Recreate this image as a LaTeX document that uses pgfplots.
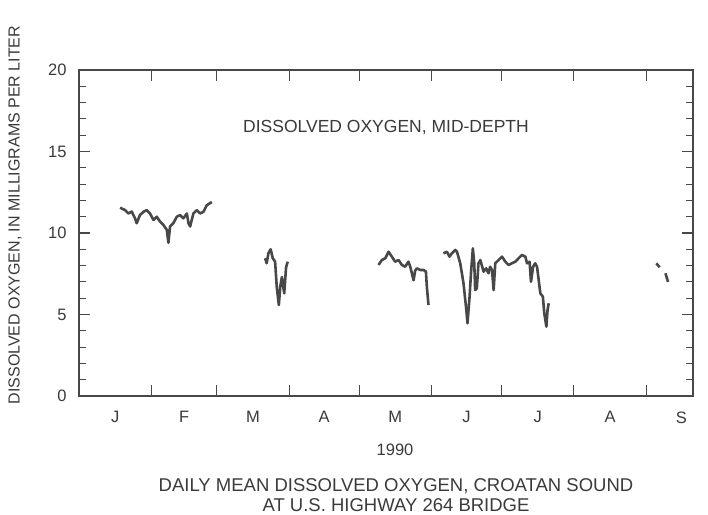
\documentclass[border=0pt]{standalone}
\usepackage{pgfplots}
\pgfplotsset{compat=1.18}
\usepackage{fontspec}
\setmainfont{Liberation Sans}
\definecolor{ink}{HTML}{484848}
\definecolor{txt}{HTML}{3A3A3A}
\begin{document}
\begin{tikzpicture}[x=1pt,y=1pt]
\useasboundingbox (0,0) rectangle (708,514);
\begin{axis}[at={(79pt,118pt)}, anchor=south west, scale only axis,
  width=614pt, height=326pt,
  xmin=0, xmax=263, ymin=0, ymax=20,
  axis line style={ink, line width=1.3pt},
  every tick/.style={ink, line width=1.1pt},
  tick align=inside,
  xtick={0,31,59,90,120,151,181,212,243},
  xticklabels={},
  major tick length=11pt,
  minor tick length=7pt,
  extra x ticks={15.5,45,74.5,105,135.5,166,196.5,227.5,258},
  extra x tick labels={J,F,M,A,M,J,J,A,S},
  extra x tick style={major tick length=0pt},
  ytick={0,5,10,15,20},
  minor y tick num=4,
  /pgf/number format/assume math mode=true,
  every tick label/.append style={font=\fontsize{16.5}{18}\selectfont, txt},
  xticklabel style={yshift=-12pt},
  yticklabel style={xshift=-9pt},
  clip=false,
]
\addplot[ink, line width=2.6pt, line join=round] coordinates {
(17.6,11.55)(19.7,11.41)(21.1,11.2)(22.6,11.31)(24,10.9)(24.7,10.6)(26.1,11.1)(27.6,11.3)(29,11.4)(30.4,11.2)(31.9,10.8)(33.3,11.0)(34.7,10.7)(36.1,10.5)(37.6,10.2)(38.3,9.4)(39,10.4)(40.4,10.6)(41.9,11.0)(43.3,11.1)(44.7,10.9)(46.2,11.2)(46.9,10.6)(47.6,10.4)(49,11.2)(50.4,11.4)(51.9,11.2)(53.3,11.3)(54.7,11.7)(56.9,11.9)
};
\addplot[ink, line width=2.6pt, line join=round] coordinates {
(79.7,8.45)(80.4,8.14)(81.1,8.75)(82.1,9.0)(83,8.45)(84,8.24)(84.7,6.7)(85.6,5.58)(86.2,6.7)(86.9,7.3)(87.9,6.3)(88.7,7.9)(89.4,8.24)
};
\addplot[ink, line width=2.6pt, line join=round] coordinates {
(128.3,8.04)(129.7,8.34)(131.2,8.45)(132.6,8.85)(134,8.55)(135.4,8.24)(136.9,8.34)(138.3,8.04)(139.7,7.93)(141.1,8.24)(141.9,7.93)(143.3,7.1)(144,7.7)(144.7,7.83)(146.2,7.73)(147.6,7.73)(148.6,7.63)(149,6.7)(149.7,5.58)
};
\addplot[ink, line width=2.6pt, line join=round] coordinates {
(156.1,8.75)(157.6,8.85)(158.7,8.55)(159.7,8.75)(161.2,8.96)(161.9,8.85)(163.3,8.14)(164.7,6.91)(165.9,5.28)(166.4,4.46)(167.3,6.09)(167.9,7.53)(168.7,9.06)(169.3,8.14)(169.7,6.5)(170.4,6.6)(171.1,8.14)(171.9,8.34)(173.3,7.63)(174.4,7.83)(175.4,7.53)(176.1,7.93)(176.9,7.73)(177.6,6.5)(178.3,8.14)(179.7,8.34)(181.2,8.55)(182.6,8.24)(184,8.04)(185.4,8.14)(186.9,8.24)(188.3,8.45)(189.7,8.65)(191.2,8.55)(191.9,8.14)(193,8.24)(193.6,7.01)(194.5,7.93)(195.4,8.14)(196.2,7.93)(197.6,6.3)(198.7,6.09)(199.3,5.07)(200.2,4.25)(200.7,5.28)(201.2,5.69)
};
\addplot[ink, line width=2.6pt, line join=round] coordinates {
(247.3,8.14)(248.7,7.9)
};
\addplot[ink, line width=2.6pt, line join=round] coordinates {
(251.2,7.53)(252.3,7.0)
};
\end{axis}
\node[txt, font=\fontsize{17.5}{20}\selectfont] at (386,386) {DISSOLVED OXYGEN, MID-DEPTH};
\node[txt, font=\fontsize{16.5}{19}\selectfont] at (395,64) {1990};
\node[txt, font=\fontsize{18.5}{20}\selectfont] at (396,28) {DAILY MEAN DISSOLVED OXYGEN, CROATAN SOUND};
\node[txt, font=\fontsize{18.5}{20}\selectfont] at (396,9) {AT U.S. HIGHWAY 264 BRIDGE};
\node[txt, rotate=90, font=\fontsize{16}{18}\selectfont] at (15,299) {DISSOLVED OXYGEN, IN MILLIGRAMS PER LITER};
\end{tikzpicture}
\end{document}
